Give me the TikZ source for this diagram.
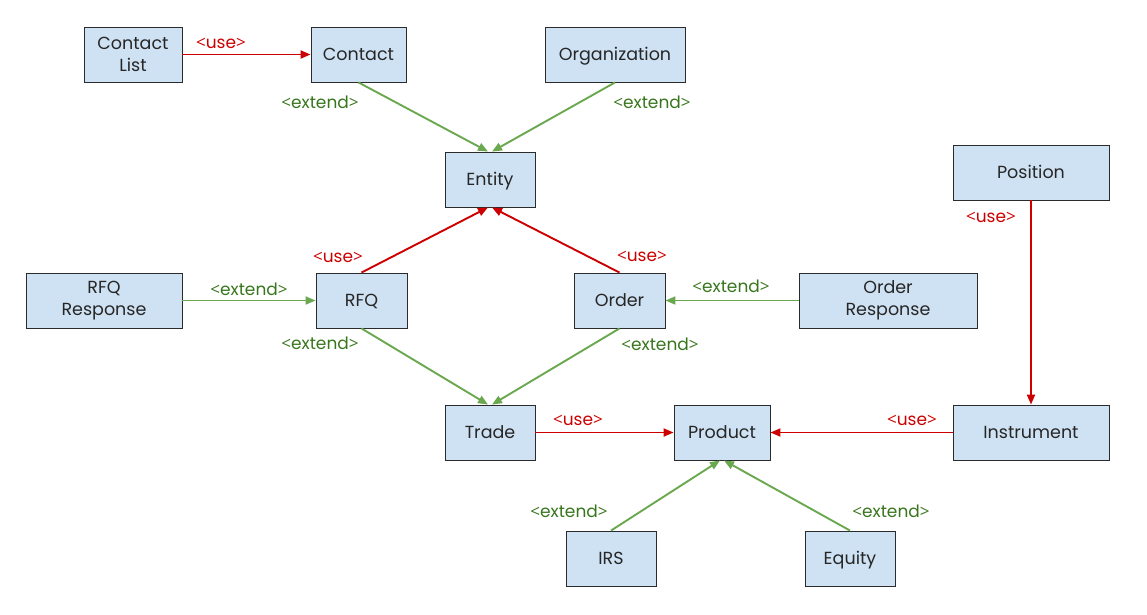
\documentclass[tikz,border=0pt]{standalone}
\usepackage{fontspec}
\setmainfont{Poppins}
\newfontfamily\brk{Open Sans}
\usetikzlibrary{arrows.meta}
\definecolor{boxfill}{HTML}{CFE2F3}
\definecolor{boxdraw}{HTML}{2B2B2B}
\definecolor{usered}{HTML}{CC0000}
\definecolor{extline}{HTML}{6AA84F}
\definecolor{exttext}{HTML}{38761D}
\newcommand{\lbl}[1]{{\brk<}#1{\brk>}}
\tikzset{
  box/.style={draw=boxdraw, fill=boxfill, line width=0.9pt, minimum height=55pt, inner sep=0pt, align=center, font=\fontsize{17.5}{22}\selectfont, text=black!85},
  onebox/.style={box, text height=12.5pt, text depth=0pt},
  usearrow/.style={draw=usered, line width=1.9pt, -{Triangle[length=10pt,width=8pt]}},
  extarrow/.style={draw=extline, line width=1.9pt, -{Triangle[length=10pt,width=8pt]}},
  uselbl/.style={text=usered, font=\fontsize{17}{20}\selectfont, inner sep=0pt},
  extlbl/.style={text=exttext, font=\fontsize{17}{20}\selectfont, inner sep=0pt},
}
\begin{document}
\begin{tikzpicture}[x=1pt,y=-1pt]
\useasboundingbox (0,0) rectangle (1147,614);
\node[box, minimum width=98pt] (cl) at (133,54.5) {Contact\\List};
\node[onebox, minimum width=95pt] (contact) at (358.5,54.5) {Contact};
\node[onebox, minimum width=140pt] (org) at (615,54.5) {Organization};
\node[onebox, minimum width=90pt] (entity) at (490,179.5) {Entity};
\node[onebox, minimum width=156pt] (pos) at (1031,172.5) {Position};
\node[box, minimum width=156pt] (rfqr) at (104,300.5) {RFQ\\Response};
\node[onebox, minimum width=91pt] (rfq) at (361.5,300.5) {RFQ};
\node[onebox, minimum width=91pt] (order) at (619.5,300.5) {Order};
\node[box, minimum width=178pt] (ordr) at (888,300.5) {Order\\Response};
\node[onebox, minimum width=90pt] (trade) at (490,432.5) {Trade};
\node[onebox, minimum width=96pt] (product) at (722,432.5) {Product};
\node[onebox, minimum width=156pt] (instr) at (1031,432.5) {Instrument};
\node[onebox, minimum width=90pt] (irs) at (611,558.5) {IRS};
\node[onebox, minimum width=90pt] (equity) at (850,558.5) {Equity};

\draw[usearrow] (cl.east) -- (contact.west);
\node[uselbl] (l1) at (221,43) {\lbl{use}};
\draw[extarrow] (contact.south) -- ([xshift=-2pt]entity.north);
\node[extlbl] (l2) at (320,102) {\lbl{extend}};
\draw[extarrow] (org.south) -- ([xshift=2pt]entity.north);
\node[extlbl] (l3) at (652,102) {\lbl{extend}};
\draw[usearrow] (rfq.north) -- ([xshift=-2pt]entity.south);
\node[uselbl] (l4) at (338,257) {\lbl{use}};
\draw[usearrow] (order.north) -- ([xshift=2pt]entity.south);
\node[uselbl] (l5) at (642,256) {\lbl{use}};
\draw[extarrow] (rfqr.east) -- (rfq.west);
\node[extlbl] (l6) at (249,289) {\lbl{extend}};
\draw[extarrow] (ordr.west) -- (order.east);
\node[extlbl] (l7) at (731,286) {\lbl{extend}};
\draw[extarrow] (rfq.south) -- ([xshift=-2pt]trade.north);
\node[extlbl] (l8) at (320,343) {\lbl{extend}};
\draw[extarrow] (order.south) -- ([xshift=2pt]trade.north);
\node[extlbl] (l9) at (660,344) {\lbl{extend}};
\draw[usearrow] (trade.east) -- (product.west);
\node[uselbl] (l10) at (578,420) {\lbl{use}};
\draw[usearrow] (instr.west) -- (product.east);
\node[uselbl] (l11) at (912,420) {\lbl{use}};
\draw[usearrow] (pos.south) -- (instr.north);
\node[uselbl] (l12) at (991,217) {\lbl{use}};
\draw[extarrow] (irs.north) -- ([xshift=-2pt]product.south);
\node[extlbl] (l13) at (569,511) {\lbl{extend}};
\draw[extarrow] (equity.north) -- ([xshift=2pt]product.south);
\node[extlbl] (l14) at (891,511) {\lbl{extend}};
\end{tikzpicture}
\end{document}
